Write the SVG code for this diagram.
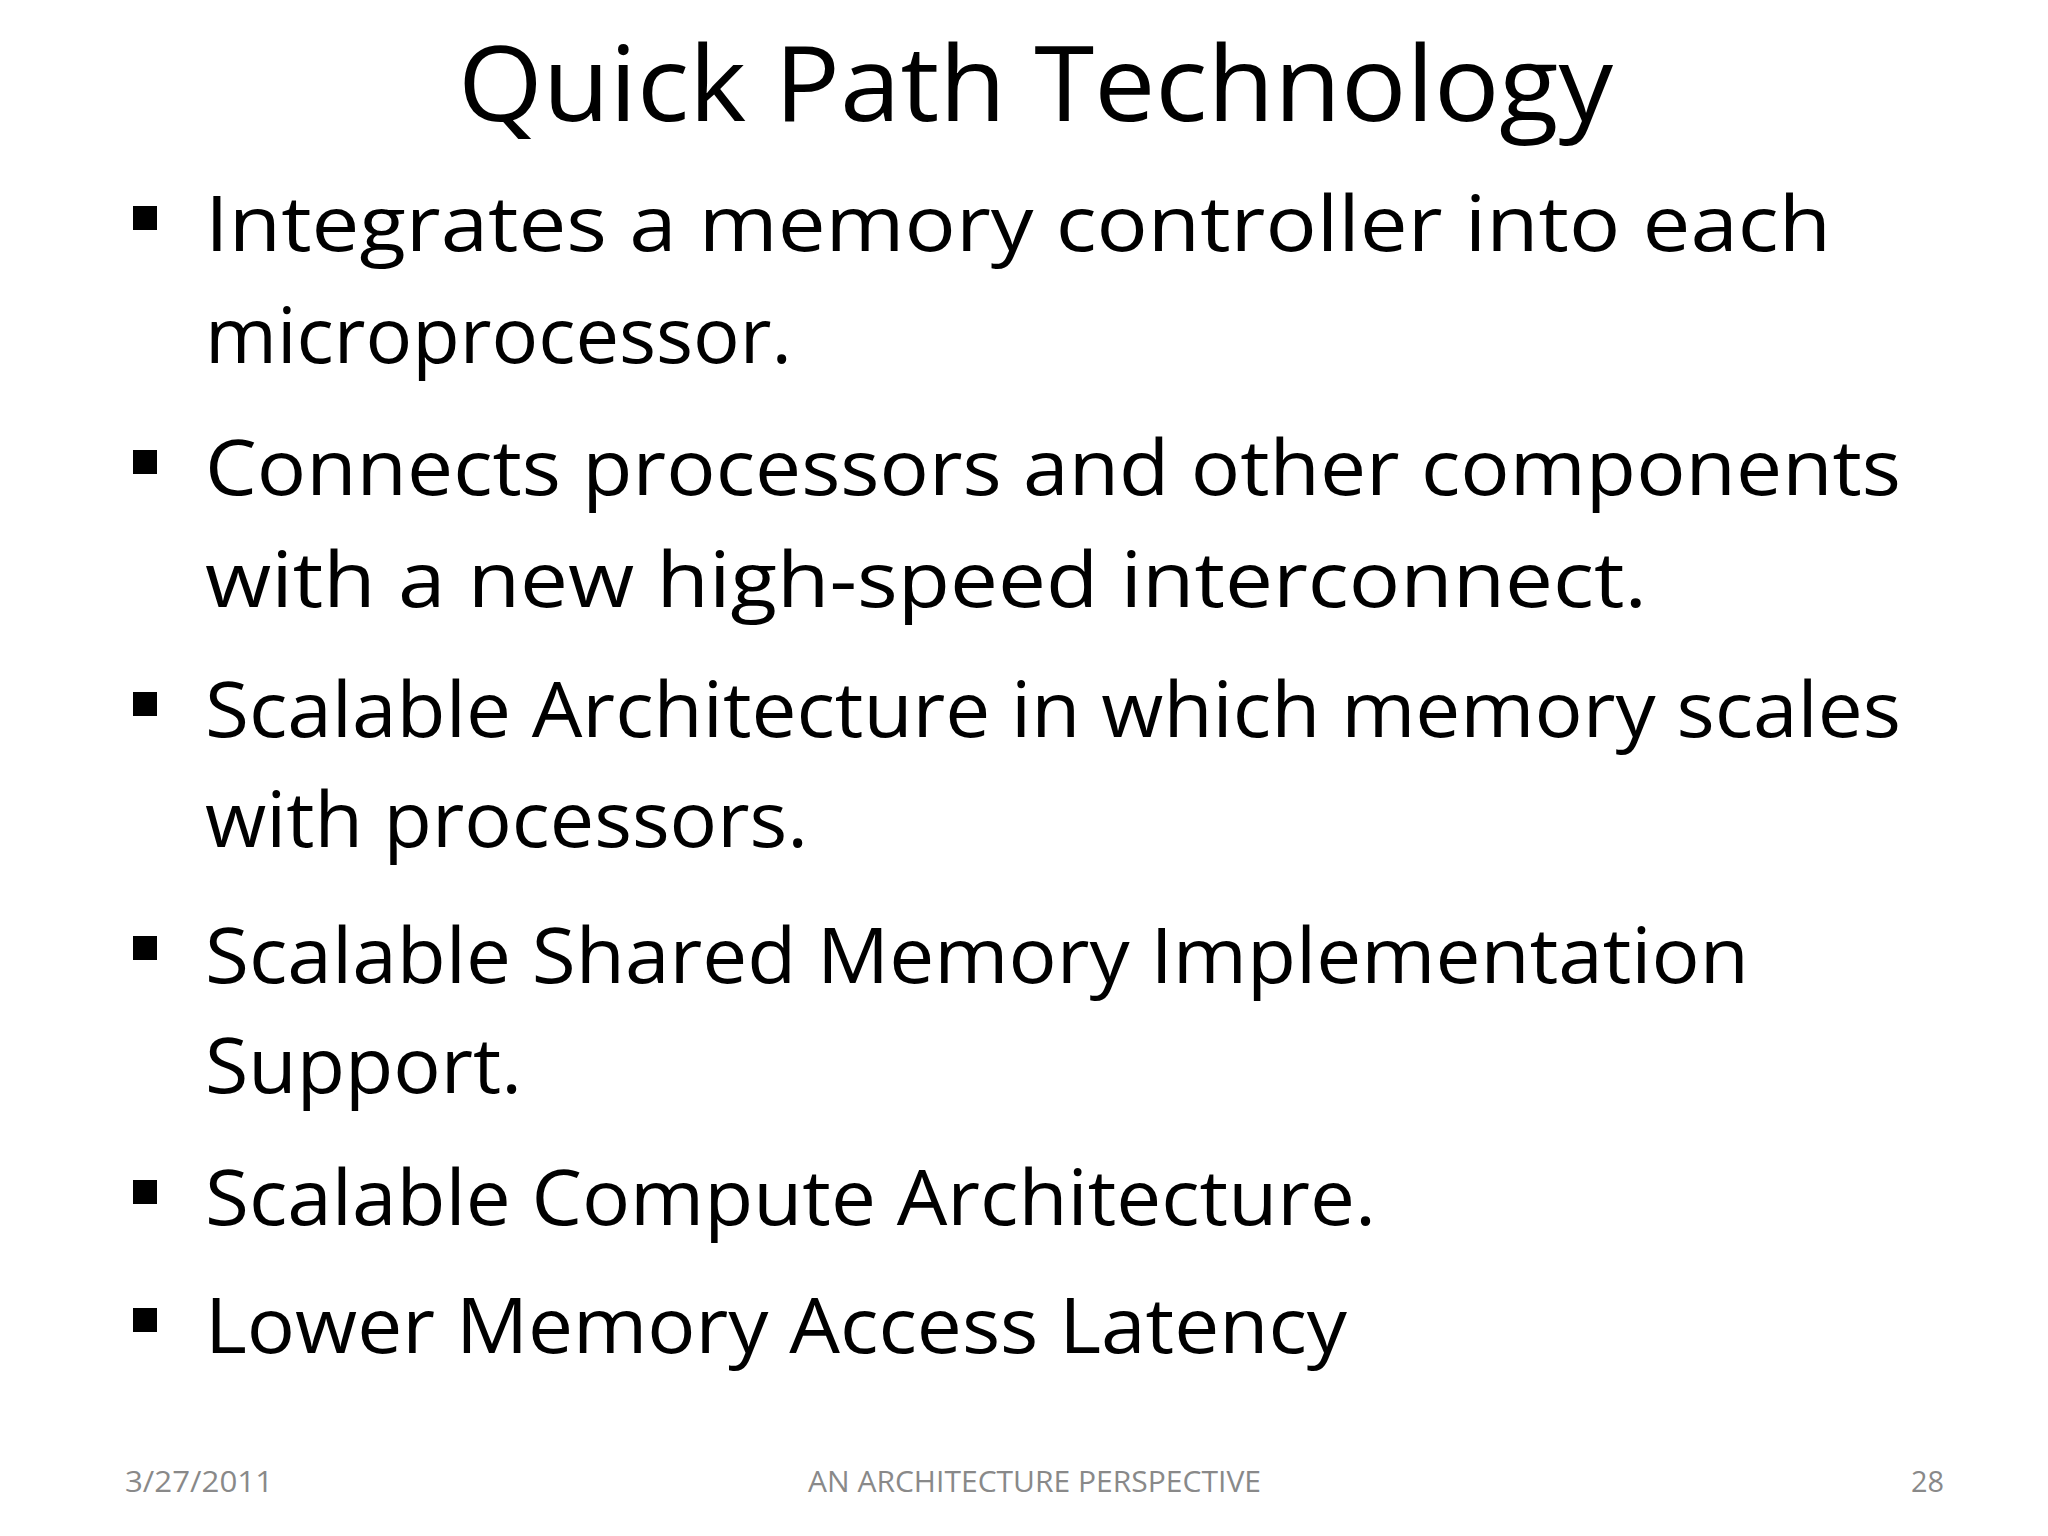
<svg xmlns="http://www.w3.org/2000/svg" width="2048" height="1536" viewBox="0 0 2048 1536">
<style>
.t{font-family:"Open Sans","Noto Sans",sans-serif;fill:#000}
.b{font-size:76px}
.f{font-size:30px;fill:#898989}
</style>
<rect width="2048" height="1536" fill="#fff"/>
<text class="t" x="458" y="121" font-size="104" textLength="1155" lengthAdjust="spacingAndGlyphs">Quick Path Technology</text>
<g fill="#000">
<rect x="133" y="206" width="24" height="24"/>
<rect x="133" y="450" width="24" height="24"/>
<rect x="133" y="692" width="24" height="24"/>
<rect x="133" y="936" width="24" height="24"/>
<rect x="133" y="1180" width="24" height="24"/>
<rect x="133" y="1308" width="24" height="24"/>
</g>
<g class="t b">
<text x="205" y="251" textLength="1626" lengthAdjust="spacingAndGlyphs">Integrates  a  memory  controller  into  each</text>
<text x="205" y="363" textLength="587" lengthAdjust="spacingAndGlyphs">microprocessor.</text>
<text x="205" y="495" textLength="1696" lengthAdjust="spacingAndGlyphs">Connects processors  and  other  components</text>
<text x="205" y="607" textLength="1442" lengthAdjust="spacingAndGlyphs">with  a  new  high-speed  interconnect.</text>
<text x="205" y="737" textLength="1696" lengthAdjust="spacingAndGlyphs">Scalable Architecture in which memory scales</text>
<text x="205" y="847" textLength="603" lengthAdjust="spacingAndGlyphs">with processors.</text>
<text x="205" y="983" textLength="1544" lengthAdjust="spacingAndGlyphs">Scalable Shared Memory Implementation</text>
<text x="205" y="1093" textLength="317" lengthAdjust="spacingAndGlyphs">Support.</text>
<text x="205" y="1225" textLength="1171" lengthAdjust="spacingAndGlyphs">Scalable Compute Architecture.</text>
<text x="205" y="1353" textLength="1142" lengthAdjust="spacingAndGlyphs">Lower Memory Access Latency</text>
</g>
<text class="t f" x="125" y="1492" textLength="148" lengthAdjust="spacingAndGlyphs">3/27/2011</text>
<text class="t f" x="808" y="1492" textLength="453" lengthAdjust="spacingAndGlyphs">AN ARCHITECTURE PERSPECTIVE</text>
<text class="t f" x="1911" y="1492" textLength="33" lengthAdjust="spacingAndGlyphs">28</text>
</svg>
